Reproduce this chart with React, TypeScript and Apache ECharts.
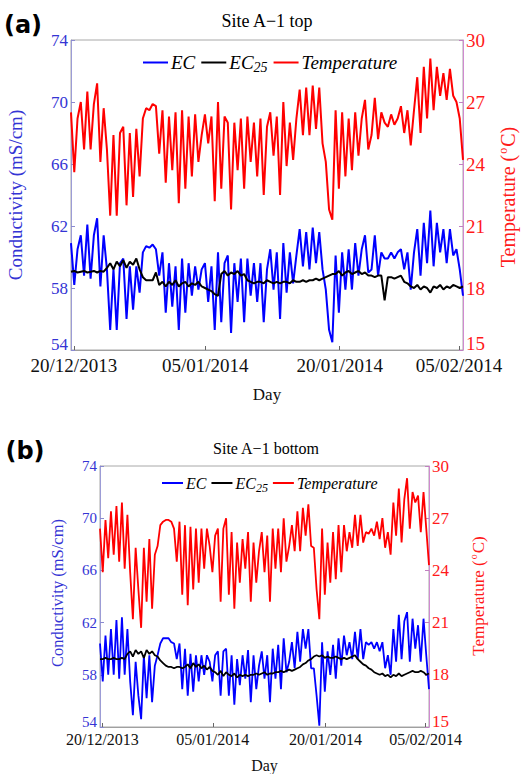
import React, { useEffect, useRef } from 'react';
import * as echarts from 'echarts';

const stepDays = 0.4;
const tickDays = [0.35, 16.45, 32.9, 47.5];
const tickLabels = ['20/12/2013', '05/01/2014', '20/01/2014', '05/02/2014'];
const ecTicks = [54, 58, 62, 66, 70, 74];
const tempTicks = [15, 18, 21, 24, 27, 30];

// ---- (a) Site A-1 top ----
const topTemp = [
  26.5, 23.6, 26.2, 27.0, 24.7, 27.5, 24.7, 26.9, 27.9, 24.1,
  26.7, 24.7, 21.5, 25.4, 21.5, 25.5, 25.8, 22.0, 25.5, 22.4,
  25.7, 23.4, 26.2, 26.7, 26.6, 26.9, 26.8, 24.5, 26.6, 23.1,
  26.3, 23.7, 26.5, 22.1, 26.6, 22.8, 26.3, 23.4, 26.4, 24.1,
  25.4, 26.4, 25.0, 26.3, 22.2, 27.0, 22.8, 26.3, 26.0, 21.8,
  26.0, 23.7, 26.2, 22.8, 26.3, 24.1, 26.0, 23.4, 26.2, 22.5,
  25.8, 26.5, 24.4, 26.3, 22.5, 27.0, 23.9, 26.0, 24.2, 26.2,
  27.6, 25.4, 27.7, 25.4, 27.8, 25.7, 27.7, 25.0, 24.1, 21.8,
  21.3, 26.6, 22.8, 26.5, 23.4, 26.2, 23.7, 26.5, 24.4, 26.2,
  27.1, 24.7, 25.4, 27.2, 25.2, 26.5, 26.0, 25.8, 26.4, 25.9,
  26.2, 26.8, 25.5, 26.6, 24.9, 26.6, 28.2, 25.5, 28.7, 26.2,
  29.1, 26.6, 28.7, 27.3, 28.4, 27.1, 28.6, 27.3, 27.0, 26.2,
  24.2,
];
const topEC = [
  60.9, 58.2, 60.5, 61.4, 58.8, 62.1, 58.6, 61.4, 62.5, 58.1,
  61.4, 59.2, 55.3, 59.2, 55.3, 59.6, 59.9, 56.0, 59.4, 56.6,
  59.4, 57.7, 60.3, 60.7, 60.6, 60.8, 60.5, 58.8, 60.3, 56.4,
  59.6, 56.8, 59.4, 55.3, 59.9, 56.4, 59.6, 57.5, 59.4, 57.9,
  59.2, 59.6, 57.1, 59.4, 55.3, 60.3, 55.8, 59.6, 60.1, 55.1,
  59.6, 57.1, 59.9, 55.8, 59.9, 57.5, 59.6, 57.1, 59.6, 55.8,
  59.2, 60.5, 57.9, 60.3, 56.0, 60.9, 57.7, 60.3, 58.3, 60.1,
  61.8, 59.4, 61.6, 59.2, 61.9, 59.6, 61.6, 59.2, 57.9, 55.3,
  54.5, 60.1, 56.4, 60.3, 57.9, 60.5, 57.9, 60.9, 58.8, 60.5,
  61.4, 59.0, 59.2, 61.4, 58.8, 60.3, 59.9, 59.9, 60.3, 59.9,
  60.3, 60.5, 59.2, 60.3, 57.9, 60.3, 61.8, 58.8, 62.2, 59.6,
  63.0, 59.4, 62.2, 60.3, 61.8, 59.6, 61.8, 60.1, 60.5, 59.2,
  57.5,
];
const topEC25 = [
  59.05, 59.1, 59.0, 59.05, 59.1, 59.0, 59.05, 59.1, 59.0, 59.1,
  59.05, 59.3, 59.6, 59.2, 59.7, 59.4, 59.8, 59.3, 59.7, 59.5,
  59.9, 59.2, 58.7, 58.5, 58.5, 58.5, 59.0, 58.2, 58.4, 58.1,
  58.4, 58.2, 58.5, 58.1, 58.3, 58.4, 58.1, 58.3, 58.2, 58.4,
  58.1, 58.0, 57.9, 57.8, 57.6, 57.5, 58.9, 59.1, 58.8, 59.0,
  58.9, 59.1, 58.8, 58.9, 58.5, 58.4, 58.3, 58.4, 58.4, 58.3,
  58.5, 58.4, 58.3, 58.4, 58.3, 58.4, 58.4, 58.3, 58.5, 58.4,
  58.4, 58.5, 58.4, 58.5, 58.5, 58.6, 58.5, 58.6, 58.7, 58.8,
  58.9, 58.9, 59.1, 58.8, 59.0, 59.1, 58.9, 59.0, 59.1, 58.9,
  59.0, 58.8, 58.8, 58.7, 58.8, 58.8, 57.2, 58.7, 58.7, 58.6,
  58.7, 58.8, 58.4, 58.3, 58.1, 58.0, 58.2, 57.9, 58.1, 58.0,
  57.7, 58.1, 58.0, 58.2, 57.9, 58.1, 58.0, 58.2, 58.1, 58.0,
  58.1,
];

// ---- (b) Site A-1 bottom ----
const botTemp = [
  26.4, 23.9, 26.9, 24.7, 27.4, 24.9, 27.7, 24.5, 27.9, 24.1,
  27.2, 23.9, 21.2, 25.3, 22.9, 20.7, 25.3, 22.2, 25.8, 21.8,
  24.9, 25.4, 26.6, 26.8, 26.9, 26.9, 26.8, 26.4, 24.5, 26.8,
  22.6, 26.6, 22.0, 26.5, 22.9, 26.4, 23.3, 26.4, 24.1, 26.4,
  25.4, 23.9, 26.0, 26.4, 22.2, 26.4, 27.0, 22.6, 26.2, 21.8,
  25.6, 23.3, 25.8, 24.1, 26.2, 22.2, 25.6, 23.3, 25.1, 26.2,
  23.9, 26.0, 22.2, 26.4, 24.1, 26.4, 23.9, 27.0, 24.5, 25.4,
  26.6, 25.1, 27.4, 25.1, 27.6, 26.0, 27.8, 25.4, 25.3, 22.9,
  21.2, 26.4, 22.6, 25.6, 23.3, 26.2, 23.5, 26.6, 23.9, 26.6,
  25.1, 26.2, 25.3, 27.2, 25.4, 27.2, 25.6, 26.2, 26.1, 26.4,
  26.0, 26.8, 25.8, 27.0, 25.3, 26.2, 24.9, 27.9, 26.0, 28.7,
  25.6, 28.1, 29.3, 26.4, 28.5, 27.9, 28.3, 26.2, 28.5, 26.4,
  24.3,
];
const botEC = [
  60.4, 57.5, 61.0, 58.0, 61.5, 58.0, 62.2, 57.7, 62.4, 58.0,
  61.5, 57.5, 54.9, 59.0, 56.4, 54.6, 59.5, 56.2, 59.5, 55.9,
  58.7, 59.5, 60.4, 60.8, 60.8, 60.8, 60.5, 60.4, 59.2, 60.4,
  56.9, 60.0, 56.4, 59.6, 56.7, 59.5, 57.5, 59.5, 58.0, 59.5,
  59.0, 57.5, 59.5, 59.8, 56.4, 59.8, 60.0, 56.4, 59.5, 55.7,
  59.2, 57.2, 59.5, 57.7, 59.9, 55.9, 59.5, 56.9, 58.7, 59.8,
  57.7, 59.5, 55.9, 60.0, 57.7, 60.3, 56.9, 60.8, 58.2, 59.0,
  60.5, 58.5, 61.3, 59.0, 61.5, 60.0, 61.5, 58.5, 58.5, 56.4,
  54.1, 60.5, 56.7, 59.8, 58.0, 60.3, 57.7, 60.8, 58.7, 61.0,
  59.5, 60.5, 59.2, 61.3, 59.2, 61.5, 59.2, 60.5, 60.3, 60.5,
  60.0, 60.5, 59.8, 60.5, 58.5, 59.5, 58.0, 61.5, 59.0, 62.6,
  59.2, 62.1, 62.8, 59.0, 62.3, 60.0, 61.8, 59.0, 62.3, 59.5,
  56.9,
];
const botEC25 = [
  59.2, 59.2, 59.3, 59.2, 59.2, 59.3, 59.2, 59.2, 59.3, 59.2,
  59.6, 59.8, 59.4, 59.9, 59.6, 59.8, 59.3, 59.9, 59.6, 59.8,
  59.5, 59.4, 59.1, 58.9, 58.7, 58.6, 58.6, 58.5, 58.6, 58.6,
  58.5, 58.6, 58.8, 58.5, 58.9, 58.6, 58.8, 58.5, 58.7, 58.4,
  58.6, 58.3, 58.2, 58.0, 58.3, 57.9, 58.2, 58.0, 57.9, 58.1,
  57.8, 58.0, 57.9, 58.0, 57.9, 58.0, 58.0, 58.1, 58.0, 58.1,
  58.2, 58.0, 58.1, 58.1, 58.2, 58.2, 58.3, 58.2, 58.3, 58.4,
  58.3, 58.4, 58.5, 58.6, 58.8, 58.9, 59.1, 59.2, 59.4, 59.5,
  59.4, 59.5, 59.3, 59.4, 59.3, 59.3, 59.4, 59.3, 59.2, 59.3,
  59.2, 59.3, 59.4, 59.5, 59.2, 59.0, 58.8, 58.7, 58.5, 58.4,
  58.2, 58.1, 58.0, 58.1, 57.9, 58.0, 57.8, 58.0, 57.9, 58.1,
  57.9, 58.0, 58.1, 58.2, 58.3, 58.2, 58.2, 58.3, 58.2, 58.0,
  58.1,
];

const SERIF = '"Liberation Serif", "Times New Roman", serif';
const BLUE = '#0000ff';
const RED = '#ff0000';
const LBL_BLUE = '#3434d4';
const LBL_RED = '#ff1a1a';

const toXY = (arr: number[]) => arr.map((v, i) => [+(i * stepDays).toFixed(2), v]);
const tickFormatter = (v: number) => {
  const k = tickDays.findIndex((t) => Math.abs(t - v) < 1e-6);
  return k >= 0 ? tickLabels[k] : '';
};

type Panel = {
  left: number; top: number; width: number; height: number;
  xFont: number; lFont: number; rFont: number; dayGap: number; dayFont: number;
  lw: number; xMargin: number;
};
const panels: Panel[] = [
  { left: 71, top: 40, width: 392, height: 310, xFont: 19, lFont: 17, rFont: 19, dayGap: 36, dayFont: 17, lw: 2, xMargin: 7 },
  { left: 100, top: 466, width: 329, height: 261, xFont: 16, lFont: 15, rFont: 17, dayGap: 30, dayFont: 16, lw: 1.8, xMargin: 6 },
];

function legendFor(p: number) {
  const big = p === 0;
  const fs = big ? 19 : 16;
  return {
    left: big ? 138 : 157,
    top: big ? 48 : 470,
    itemWidth: big ? 25 : 21,
    itemHeight: 2,
    itemGap: big ? 6 : 5,
    icon: 'rect',
    data: ['EC', 'EC25', 'Temperature'],
    formatter: (name: string) => (name === 'EC25' ? '{i|EC}{s|25}' : '{i|' + name + '}'),
    textStyle: {
      color: '#000',
      padding: [0, 0, 0, -2],
      rich: {
        i: { fontFamily: SERIF, fontStyle: 'italic', fontSize: fs, color: '#000', lineHeight: fs + 2 },
        s: { fontFamily: SERIF, fontStyle: 'italic', fontSize: Math.round(fs * 0.72), color: '#000', padding: [Math.round(fs * 0.55), 0, 0, 0] },
      },
    },
  };
}

export default function App() {
  const ref = useRef<HTMLDivElement>(null);
  useEffect(() => {
    document.body.style.margin = '0';
    if (!ref.current) return;
    const chart = echarts.init(ref.current, undefined, { renderer: 'svg' });

    const grid = panels.map((p) => ({
      left: p.left, top: p.top, width: p.width, height: p.height,
      show: true, borderColor: '#a8a8a8', borderWidth: 1, backgroundColor: 'transparent',
    }));

    const xAxis = panels.map((p, k) => ({
      gridIndex: k, type: 'value', min: 0, max: 48,
      axisLine: { show: true, lineStyle: { color: '#a0a0a0', width: 1 } },
      axisTick: { show: true, inside: true, length: 4, customValues: tickDays, lineStyle: { color: '#666' } },
      axisLabel: {
        customValues: tickDays, formatter: tickFormatter, color: '#111', fontFamily: SERIF,
        fontSize: p.xFont, lineHeight: p.xFont - 3, margin: p.xMargin,
      },
      splitLine: { show: false },
      name: 'Day', nameLocation: 'middle', nameGap: p.dayGap,
      nameTextStyle: { fontFamily: SERIF, fontSize: p.dayFont, color: '#111' },
    }));

    const yAxis: any[] = [];
    panels.forEach((p, k) => {
      yAxis.push({
        gridIndex: k, type: 'value', position: 'left', min: ecTicks[0], max: ecTicks[ecTicks.length - 1], interval: 4,
        axisLine: { show: true, lineStyle: { color: '#9c9cd6', width: 1 } },
        axisTick: { show: true, inside: true, length: 4, lineStyle: { color: '#8a8ad0' } },
        axisLabel: {
          color: LBL_BLUE, fontFamily: SERIF, fontSize: p.lFont, lineHeight: p.lFont - 5, margin: 3,
          verticalAlignMinLabel: 'bottom',
        },
        splitLine: { show: false },
      });
      yAxis.push({
        gridIndex: k, type: 'value', position: 'right', min: tempTicks[0], max: tempTicks[tempTicks.length - 1], interval: 3,
        axisLine: { show: true, lineStyle: { color: '#d08ad0', width: 1 } },
        axisTick: { show: true, inside: true, length: 4, lineStyle: { color: '#c080c0' } },
        axisLabel: {
          color: LBL_RED, fontFamily: SERIF, fontSize: p.rFont, lineHeight: p.rFont - 6, margin: 3,
          verticalAlignMinLabel: 'bottom',
        },
        splitLine: { show: false },
      });
    });

    const mkSeries = (name: string, data: number[], color: string, k: number, yIdx: number, lw: number, z: number) => ({
      name, type: 'line', xAxisIndex: k, yAxisIndex: yIdx, data: toXY(data),
      symbol: 'none', showSymbol: false, z,
      lineStyle: { color, width: lw }, itemStyle: { color },
    });

    const series = [
      mkSeries('EC', topEC, BLUE, 0, 0, panels[0].lw, 2),
      mkSeries('EC25', topEC25, '#000000', 0, 0, panels[0].lw, 3),
      mkSeries('Temperature', topTemp, RED, 0, 1, panels[0].lw, 2),
      mkSeries('EC', botEC, BLUE, 1, 2, panels[1].lw, 2),
      mkSeries('EC25', botEC25, '#000000', 1, 2, panels[1].lw, 3),
      mkSeries('Temperature', botTemp, RED, 1, 3, panels[1].lw, 2),
    ];

    const txt = (text: string, x: number, y: number, style: any, rotation = 0) => ({
      type: 'text', x, y, rotation, silent: true,
      style: { text, align: 'center', verticalAlign: 'middle', fill: '#000', fontFamily: SERIF, ...style },
    });
    const tempName = (fs: number) => ({
      text: '{t|Temperature (}{o|o}{t|C)}',
      rich: {
        t: { fontFamily: SERIF, fontSize: fs, fill: LBL_RED, color: LBL_RED },
        o: { fontFamily: SERIF, fontSize: Math.round(fs * 0.6), fill: LBL_RED, color: LBL_RED, padding: [0, 1, Math.round(fs * 0.55), 1] },
      },
    });

    const graphic = [
      txt('(a)', 23, 25, { fontFamily: '"DejaVu Sans", sans-serif', fontWeight: 'bold', fontSize: 24 }),
      txt('Site A\u22121 top', 267, 21, { fontSize: 18 }),
      txt('Conductivity (mS/cm)', 15, 195, { fontSize: 19, fill: LBL_BLUE }, Math.PI / 2),
      { type: 'text', x: 508, y: 197, rotation: Math.PI / 2, silent: true,
        style: { ...tempName(20), align: 'center', verticalAlign: 'middle' } },
      txt('(b)', 25, 451, { fontFamily: '"DejaVu Sans", sans-serif', fontWeight: 'bold', fontSize: 24 }),
      txt('Site A\u22121 bottom', 266, 448, { fontSize: 16 }),
      txt('Conductivity (mS/cm)', 57, 593, { fontSize: 16.5, fill: LBL_BLUE }, Math.PI / 2),
      { type: 'text', x: 478, y: 596, rotation: Math.PI / 2, silent: true,
        style: { ...tempName(17), align: 'center', verticalAlign: 'middle' } },
    ];

    chart.setOption({
      animation: false,
      backgroundColor: '#ffffff',
      grid,
      xAxis,
      yAxis,
      legend: [legendFor(0), legendFor(1)],
      series,
      graphic,
    });
    return () => chart.dispose();
  }, []);
  return <div ref={ref} style={{ width: 524, height: 774 }} />;
}
